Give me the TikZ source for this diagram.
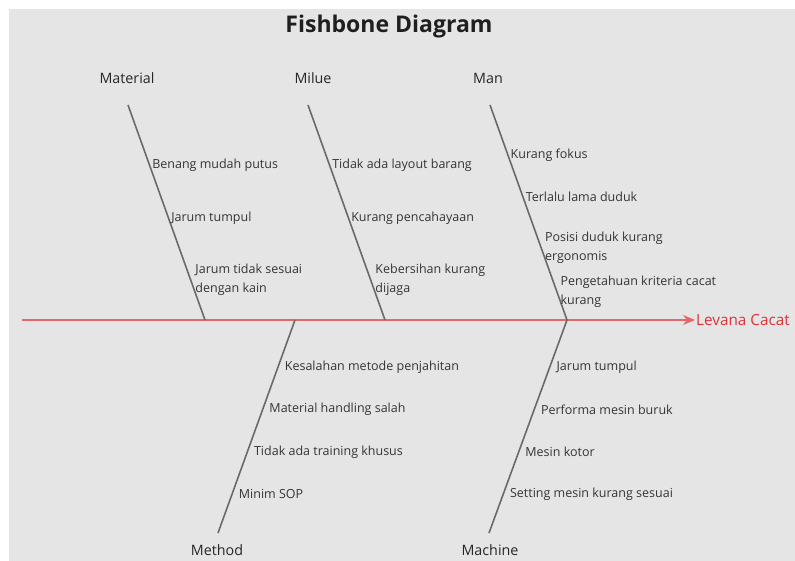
\documentclass[tikz,border=0pt]{standalone}
\usepackage{fontspec}
\setmainfont{Open Sans}
\usetikzlibrary{arrows.meta}
\definecolor{bggray}{HTML}{E5E5E5}
\definecolor{bonegray}{HTML}{6A6A6A}
\definecolor{textgray}{HTML}{353535}
\definecolor{spinered}{HTML}{E4686B}
\definecolor{effectred}{HTML}{D8353B}
\tikzstyle{bone} = [draw, color=bonegray, line width=1.6pt]
\tikzstyle{cause} = [anchor=west, align=left, text=textgray, inner sep=1pt,
    font=\fontsize{12.5}{19}\selectfont]
\tikzstyle{lowcause} = [cause, xshift=5pt]
\tikzstyle{category} = [text=black!85, font=\fontsize{14.3}{16}\selectfont]
\tikzstyle{line} = [draw, -{Stealth[length=12pt, width=10pt, inset=4pt]}, color=spinered, line width=1.3pt]

\begin{document}
\begin{tikzpicture}[x=1pt, y=-1pt]
		\useasboundingbox (0,0) rectangle (795,561);
		\fill [bggray] (9,9) rectangle (795,561);
		\node [font=\bfseries\fontsize{23}{26}\selectfont, text=black!88] (title) at (389,27) {Fishbone Diagram};
		
		% categories
		\node [category] (material) at (127,78) {Material};
		\node [category] (milue) at (313,78) {Milue};
		\node [category] (man) at (488,78) {Man};
		\node [category] (method) at (217,550) {Method};
		\node [category] (machine) at (490,550) {Machine};
		
		% spine
		\coordinate (tail) at (22,320);
		\node [anchor=west, inner sep=1pt, text=effectred, font=\fontsize{15.3}{17}\selectfont] (effect) at (695,320) {Levana Cacat};
		\path [line] (tail) -- (effect);
		
		\coordinate (mat-top) at (128,105);
		\coordinate (mat-end) at (205,320);
		\coordinate (mil-top) at (308,105);
		\coordinate (mil-end) at (385,320);
		\coordinate (man-top) at (490,105);
		\coordinate (man-end) at (567,320);
		\coordinate (met-start) at (295,320);
		\coordinate (met-bot) at (218,533);
		\coordinate (mac-start) at (567,320);
		\coordinate (mac-bot) at (489,533);
		
		\path [bone] (mat-top) -- (mat-end)
			node [cause, pos=0.279, xshift=1pt] (mat1) {Benang mudah putus}
			node [cause, pos=0.526, xshift=1pt] (mat2) {Jarum tumpul}
			node [cause, pos=0.814, xshift=3pt] (mat3) {Jarum tidak sesuai\\dengan kain};
		\path [bone] (mil-top) -- (mil-end)
			node [cause, pos=0.279, xshift=1pt] (mil1) {Tidak ada layout barang}
			node [cause, pos=0.526, xshift=1pt] (mil2) {Kurang pencahayaan}
			node [cause, pos=0.814, xshift=3pt] (mil3) {Kebersihan kurang\\dijaga};
		\path [bone] (man-top) -- (man-end)
			node [cause, pos=0.233, xshift=1pt] (man1) {Kurang fokus}
			node [cause, pos=0.428, xshift=1pt] (man2) {Terlalu lama duduk}
			node [cause, pos=0.665, xshift=2pt] (man3) {Posisi duduk kurang\\ergonomis}
			node [cause, pos=0.867, xshift=2pt] (man4) {Pengetahuan kriteria cacat\\kurang};
		\path [bone] (met-start) -- (met-bot)
			node [lowcause, pos=0.22] (met1) {Kesalahan metode penjahitan}
			node [lowcause, pos=0.42] (met2) {Material handling salah}
			node [lowcause, pos=0.62] (met3) {Tidak ada training khusus}
			node [lowcause, pos=0.817] (met4) {Minim SOP};
		\path [bone] (mac-start) -- (mac-bot)
			node [lowcause, pos=0.22] (mac1) {Jarum tumpul}
			node [lowcause, pos=0.42] (mac2) {Performa mesin buruk}
			node [lowcause, pos=0.62] (mac3) {Mesin kotor}
			node [lowcause, pos=0.817] (mac4) {Setting mesin kurang sesuai};
	\end{tikzpicture}
\end{document}
